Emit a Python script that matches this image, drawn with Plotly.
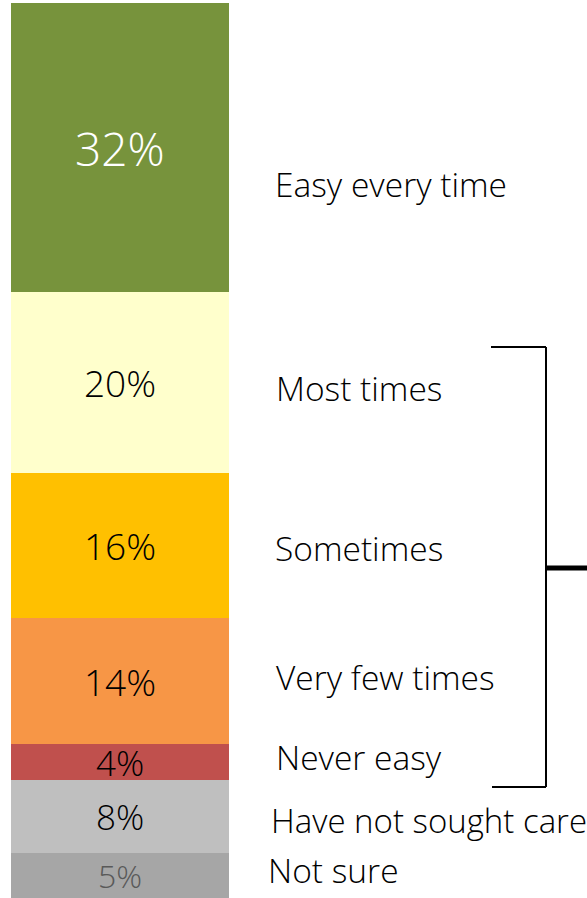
import plotly.graph_objects as go

# Data (bottom to top of the stacked bar)
categories = ["Not sure", "Have not sought care", "Never easy", "Very few times",
              "Sometimes", "Most times", "Easy every time"]
values = [5, 8, 4, 14, 16, 20, 32]
colors = ["#A6A6A6", "#BFBFBF", "#C0504D", "#F79646", "#FFC000", "#FFFFCC", "#77933C"]
pct_font_sizes = [32, 35, 35, 37, 37, 37, 46]
pct_font_colors = ["#595959", "#000000", "#000000", "#000000", "#000000", "#000000", "#FFFFFF"]
label_font_sizes = [33.5, 33, 33.5, 33.5, 33.5, 33.5, 33.5]
# label placement (pixel y of text centre, pixel x of left edge)
label_y_px = [870, 820, 757, 677, 548, 388, 184]
label_x_px = [266, 269, 274, 274, 273, 274, 273]

W, H = 587, 898
TOP, BOTTOM = 3, 0
plot_h = H - TOP - BOTTOM
total = sum(values)

fig = go.Figure()
for cat, v, c in zip(categories, values, colors):
    fig.add_trace(go.Bar(x=[0], y=[v], name=cat, marker=dict(color=c, line=dict(width=0)),
                         width=1, hoverinfo="skip"))

annotations = []
cum = 0
for v, fs, fc in zip(values, pct_font_sizes, pct_font_colors):
    annotations.append(dict(x=0, y=cum + v / 2, xref="x", yref="y", text=f"{v}%",
                            showarrow=False,
                            font=dict(family="Open Sans", size=fs, color=fc, weight=300),
                            xanchor="center", yanchor="middle"))
    cum += v

def py(p):
    return (H - BOTTOM - p) / plot_h

for cat, yp, xp, fs in zip(categories, label_y_px, label_x_px, label_font_sizes):
    annotations.append(dict(x=xp / W, y=py(yp), xref="paper", yref="paper", text=cat,
                            showarrow=False,
                            font=dict(family="Open Sans", size=fs, color="#000000", weight=300),
                            xanchor="left", yanchor="middle"))

line = dict(color="#000000", width=2)
shapes = [
    dict(type="line", xref="paper", yref="paper", x0=491 / W, x1=546 / W, y0=py(347), y1=py(347), line=line),
    dict(type="line", xref="paper", yref="paper", x0=546 / W, x1=546 / W, y0=py(347), y1=py(787), line=line),
    dict(type="line", xref="paper", yref="paper", x0=492 / W, x1=546 / W, y0=py(787), y1=py(787), line=line),
    dict(type="line", xref="paper", yref="paper", x0=546 / W, x1=1.0, y0=py(568), y1=py(568),
         line=dict(color="#000000", width=5)),
]

fig.update_layout(
    barmode="stack",
    width=W, height=H,
    margin=dict(l=0, r=0, t=TOP, b=BOTTOM, pad=0),
    paper_bgcolor="#FFFFFF", plot_bgcolor="#FFFFFF",
    showlegend=False,
    bargap=0,
    xaxis=dict(domain=[11 / W, 229 / W], range=[-0.5, 0.5], visible=False, fixedrange=True),
    yaxis=dict(range=[0, total], visible=False, fixedrange=True),
    annotations=annotations,
    shapes=shapes,
)

fig.write_html("out.html", config={"displayModeBar": False})
